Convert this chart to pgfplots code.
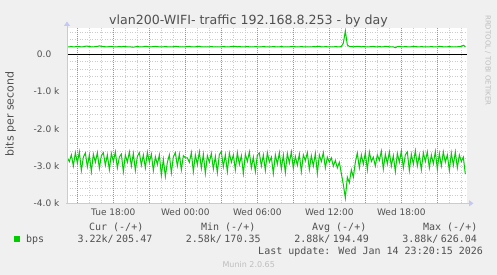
\documentclass[border=0pt]{standalone}
\usepackage{pgfplots}
\pgfplotsset{compat=1.18}
\usepackage{pgfplotstable}
\usepackage{fontspec}
\setmainfont{DejaVu Sans}
\newfontfamily\mono{DejaVu Sans Mono}
\usetikzlibrary{arrows.meta}
\definecolor{bg}{HTML}{F0F0F0}
\definecolor{txt}{HTML}{505050}
\definecolor{lgt}{HTML}{BEBEBE}
\definecolor{grn}{HTML}{00CC00}
\definecolor{axc}{HTML}{C4C8F4}
\definecolor{mgrid}{HTML}{E07878}
\definecolor{ngrid}{HTML}{CCCCCC}

\pgfplotstableread[row sep=\\]{in\\
-2780\\ -2880\\ -2700\\ -3000\\ -2640\\ -2920\\ -2620\\ -3120\\ -2760\\ -2650\\ -3020\\ -2700\\
-3150\\ -2680\\ -2900\\ -2640\\ -3060\\ -2720\\ -2640\\ -2980\\ -2700\\ -3100\\ -2660\\ -2880\\
-2620\\ -3050\\ -2760\\ -2680\\ -3150\\ -2700\\ -2900\\ -2620\\ -3000\\ -2660\\ -3120\\ -2740\\
-2640\\ -2980\\ -2700\\ -3050\\ -2630\\ -2900\\ -2680\\ -3120\\ -2750\\ -2960\\ -2700\\ -3250\\
-2820\\ -3280\\ -2900\\ -2700\\ -3180\\ -2750\\ -2640\\ -3000\\ -2680\\ -3100\\ -2720\\ -2780\\
-2780\\ -2900\\ -2640\\ -3150\\ -2700\\ -2960\\ -2620\\ -3060\\ -2680\\ -3200\\ -2720\\ -2900\\
-2660\\ -3080\\ -2740\\ -3180\\ -2690\\ -2620\\ -3020\\ -2700\\ -3150\\ -2650\\ -2900\\ -2700\\
-3100\\ -2640\\ -2960\\ -2720\\ -3200\\ -2680\\ -2880\\ -2620\\ -3050\\ -2760\\ -3150\\ -2700\\
-2650\\ -3000\\ -2700\\ -3120\\ -2640\\ -2900\\ -2760\\ -3200\\ -2700\\ -2950\\ -2640\\ -3080\\
-2700\\ -3180\\ -2660\\ -2920\\ -2620\\ -3060\\ -2740\\ -2980\\ -2680\\ -3150\\ -2700\\ -2860\\
-2640\\ -3100\\ -2720\\ -3000\\ -2660\\ -3200\\ -2700\\ -2880\\ -2640\\ -3050\\ -2760\\ -2900\\
-2780\\ -3000\\ -2850\\ -3050\\ -2900\\ -3200\\ -3500\\ -3860\\ -3300\\ -3450\\ -3100\\ -3300\\
-2900\\ -2650\\ -3050\\ -2700\\ -2950\\ -2640\\ -3100\\ -2620\\ -2880\\ -2760\\ -3000\\ -2700\\
-2850\\ -2600\\ -3080\\ -2680\\ -2940\\ -2620\\ -3000\\ -2720\\ -3150\\ -2660\\ -2900\\ -2600\\
-3050\\ -2700\\ -2620\\ -3120\\ -2680\\ -2950\\ -2590\\ -3000\\ -2700\\ -3100\\ -2640\\ -2880\\
-2620\\ -3050\\ -2700\\ -2940\\ -2610\\ -3080\\ -2660\\ -3000\\ -2620\\ -2900\\ -2700\\ -3120\\
-2650\\ -2980\\ -2620\\ -3050\\ -2700\\ -2880\\ -2760\\ -3220\\
}\tin

\pgfplotstableread[row sep=\\]{out\\
195\\ 200\\ 205\\ 198\\ 202\\ 210\\ 205\\ 195\\ 200\\ 215\\ 220\\ 205\\
200\\ 198\\ 205\\ 210\\ 225\\ 215\\ 205\\ 200\\ 198\\ 205\\ 210\\ 200\\
195\\ 200\\ 205\\ 200\\ 210\\ 205\\ 198\\ 200\\ 195\\ 190\\ 200\\ 205\\
200\\ 195\\ 200\\ 215\\ 205\\ 198\\ 200\\ 205\\ 210\\ 205\\ 198\\ 195\\
200\\ 205\\ 200\\ 195\\ 198\\ 200\\ 215\\ 205\\ 200\\ 198\\ 195\\ 200\\
205\\ 210\\ 200\\ 195\\ 200\\ 205\\ 215\\ 200\\ 198\\ 200\\ 195\\ 200\\
205\\ 200\\ 198\\ 200\\ 195\\ 200\\ 205\\ 200\\ 198\\ 200\\ 205\\ 215\\
210\\ 200\\ 205\\ 200\\ 198\\ 200\\ 205\\ 200\\ 200\\ 198\\ 205\\ 200\\
198\\ 200\\ 205\\ 200\\ 195\\ 198\\ 200\\ 205\\ 200\\ 198\\ 200\\ 205\\
200\\ 198\\ 195\\ 200\\ 205\\ 210\\ 200\\ 198\\ 200\\ 205\\ 200\\ 198\\
200\\ 195\\ 198\\ 205\\ 200\\ 210\\ 215\\ 200\\ 198\\ 205\\ 200\\ 198\\
200\\ 198\\ 205\\ 200\\ 198\\ 210\\ 300\\ 626\\ 250\\ 210\\ 205\\ 200\\
205\\ 215\\ 210\\ 200\\ 205\\ 200\\ 195\\ 200\\ 205\\ 210\\ 200\\ 198\\
205\\ 200\\ 198\\ 215\\ 205\\ 200\\ 195\\ 200\\ 175\\ 205\\ 210\\ 200\\
200\\ 205\\ 200\\ 198\\ 200\\ 215\\ 205\\ 200\\ 198\\ 205\\ 200\\ 195\\
198\\ 200\\ 205\\ 200\\ 195\\ 200\\ 215\\ 205\\ 200\\ 198\\ 200\\ 205\\
200\\ 198\\ 195\\ 200\\ 205\\ 215\\ 240\\ 205\\
}\tout

\begin{document}
\begin{tikzpicture}
\path[use as bounding box, fill=bg] (0,0) rectangle (497pt,275pt);
\begin{axis}[
  at={(67pt,71.7pt)}, anchor=south west,
  scale only axis, width=400pt, height=175.3pt,
  xmin=-3.86, xmax=29.475, ymin=-4000, ymax=705,
  axis background/.style={fill=white},
  axis line style={draw=none},
  xtick={0,6,12,18,24},
  xticklabels={Tue 18:00, Wed 00:00, Wed 06:00, Wed 12:00, Wed 18:00},
  minor xtick={-2,-1,1,2,4,5,7,8,10,11,13,14,16,17,19,20,22,23,25,26,28,29},
  ytick={-4000,-3000,-2000,-1000,0},
  yticklabels={{-4.0 k},{-3.0 k},{-2.0 k},{-1.0 k},{0.0\phantom{ k}}},
  minor ytick={-3800,-3600,-3400,-3200,-2800,-2600,-2400,-2200,-1800,-1600,-1400,-1200,-800,-600,-400,-200,200,400,600},
  xmajorgrids=false, xminorgrids=true, ymajorgrids=true, yminorgrids=true,
  major grid style={draw=ngrid, line width=0.7pt, dash pattern=on 1pt off 1.5pt},
  minor grid style={draw=ngrid, line width=0.7pt, dash pattern=on 1pt off 1.5pt},
  major tick length=0pt, minor tick length=0pt,
  xticklabel style={anchor=base, inner sep=0pt, yshift=-12.2pt, font=\fontsize{9}{10}\selectfont, text=txt},
  yticklabel style={anchor=base east, inner sep=0pt, xshift=-7.5pt, yshift=-3.3pt, font=\fontsize{9}{10}\selectfont, text=txt},
  clip=true,
]
\pgfplotsinvokeforeach{-3,0,3,6,9,12,15,18,21,24,27}{
  \addplot[mgrid, line width=1pt, dash pattern=on 1pt off 1pt, forget plot] coordinates {(#1,-4000) (#1,705)};
}
\addplot[grn, line width=1pt] table[x expr=\coordindex/6-3.83, y=in] {\tin};
\addplot[black, line width=1pt] coordinates {(-3.86,0) (29.475,0)};
\addplot[grn, line width=1pt] table[x expr=\coordindex/6-3.83, y=out] {\tout};
\end{axis}
% axis lines with arrows
\draw[axc, line width=0.9pt, -{Triangle[length=4.5pt,width=6pt]}] (66pt,71.7pt) -- (473.5pt,71.7pt);
\draw[axc, line width=0.9pt, -{Triangle[length=4.5pt,width=6pt]}] (67pt,70.7pt) -- (67pt,253.5pt);
% title
\node[anchor=base, text=txt, font=\fontsize{12.6}{14}\selectfont, inner sep=0pt] at (248.5pt,250.5pt) {vlan200-WIFI- traffic 192.168.8.253 - by day};
% y label
\node[rotate=90, text=txt, font=\fontsize{11}{12}\selectfont, inner sep=0pt] at (10.5pt,161pt) {bits per second};
% watermark
\node[rotate=-90, anchor=base west, text=lgt, font=\fontsize{7}{8}\selectfont, inner sep=0pt] at (485.5pt,260pt) {RRDTOOL / TOBI OETIKER};
% legend
\fill[grn] (14pt,33.3pt) rectangle (19.5pt,38.5pt);
\begin{scope}[every node/.style={inner sep=0pt, text=txt, font=\mono\fontsize{10}{11}\selectfont}]
\node[anchor=base west] at (26pt,32.2pt) {bps};
\node[anchor=base east] at (143.5pt,44.3pt) {Cur (-/+)};
\node[anchor=base east] at (255.5pt,44.3pt) {Min (-/+)};
\node[anchor=base east] at (366.5pt,44.3pt) {Avg (-/+)};
\node[anchor=base east] at (477.5pt,44.3pt) {Max (-/+)};
\node[anchor=base east] at (152.5pt,32.2pt) {3.22k/\hspace{2.5pt}205.47};
\node[anchor=base east] at (260.8pt,32.2pt) {2.58k/\hspace{2.5pt}170.35};
\node[anchor=base east] at (369.2pt,32.2pt) {2.88k/\hspace{2.5pt}194.49};
\node[anchor=base east] at (477.2pt,32.2pt) {3.88k/\hspace{2.5pt}626.04};
\node[anchor=base east] at (483.2pt,20pt) {Last update: Wed Jan 14 23:20:15 2026};
\end{scope}
\node[anchor=base, inner sep=0pt, text=lgt, font=\fontsize{8}{9}\selectfont] at (248.7pt,7.8pt) {Munin 2.0.65};
\end{tikzpicture}
\end{document}
